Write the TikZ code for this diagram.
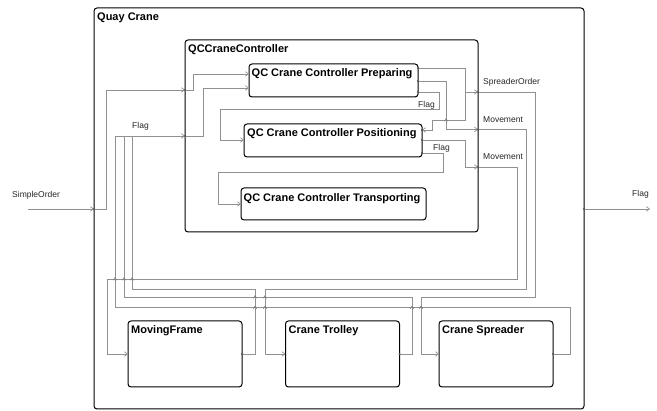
\documentclass[tikz,border=0pt]{standalone}
\usepackage{fontspec}
\setmainfont{Liberation Sans}
\usetikzlibrary{arrows.meta}
\definecolor{wirec}{RGB}{145,145,145}
\definecolor{portc}{RGB}{80,80,80}
\tikzset{
  blk/.style={draw=black, line width=1pt, rounded corners=3pt, anchor=north west, inner sep=0pt, outer sep=0pt},
  ttl/.style={anchor=base west, inner sep=0pt, font=\fontsize{11}{13}\selectfont\bfseries},
  lbl/.style={anchor=base west, inner sep=0pt, font=\fontsize{8.5}{10}\selectfont, text=black!85},
  wire/.style={draw=wirec, line width=0.7pt},
  arr/.style={wire, -{Straight Barb[length=3pt,width=4.5pt]}},
  portmark/.style={fill=portc, circle, inner sep=0pt, minimum size=2.4pt},
  hop/.style={draw=wirec!80!black, line width=0.5pt},
}
\begin{document}
\begin{tikzpicture}[x=1pt,y=-1pt]
\useasboundingbox (0,0) rectangle (657,411);

% boxes
\node[blk, minimum width=490pt, minimum height=401pt] (qc) at (94,8) {};
\node[blk, minimum width=293pt, minimum height=192pt] (cc) at (185,40) {};
\node[blk, minimum width=169pt, minimum height=33pt] (prep) at (249,64) {};
\node[blk, minimum width=178pt, minimum height=33pt] (posi) at (244,124) {};
\node[blk, minimum width=185pt, minimum height=32pt] (trans) at (241,188) {};
\node[blk, minimum width=114pt, minimum height=66pt] (mf) at (128,321) {};
\node[blk, minimum width=114pt, minimum height=66pt] (ct) at (285.5,321) {};
\node[blk, minimum width=114pt, minimum height=66pt] (cs) at (439,321) {};

% titles
\node[ttl] (qct) at (97,21) {Quay Crane};
\node[ttl] (cct) at (188,53) {QCCraneController};
\node[ttl] (prept) at (251.5,77) {QC Crane Controller Preparing};
\node[ttl] (posit) at (247,137) {QC Crane Controller Positioning};
\node[ttl] (transt) at (243.5,201.5) {QC Crane Controller Transporting};
\node[ttl] (mft) at (131,334) {MovingFrame};
\node[ttl] (ctt) at (288.5,334) {Crane Trolley};
\node[ttl] (cst) at (442,334) {Crane Spreader};

% labels
\node[lbl] (lso) at (12,198) {SimpleOrder};
\node[lbl] (lfl1) at (132,129) {Flag};
\node[lbl] (lfl2) at (418,107.3) {Flag};
\node[lbl] (lfl3) at (433,150.7) {Flag};
\node[lbl] (lspo) at (483,84.5) {SpreaderOrder};
\node[lbl] (lmv1) at (483,123) {Movement};
\node[lbl] (lmv2) at (483,160) {Movement};
\node[lbl] (lflo) at (632,197) {Flag};

% ports
\coordinate (soStart) at (28,209);
\coordinate (qcIn) at (qc.west |- {(0,209)});
\coordinate (qcOut) at (qc.east |- {(0,209)});
\coordinate (flEnd) at (650,209);
\coordinate (ccIn1) at (cc.west |- {(0,90)});
\coordinate (ccIn2) at (cc.west |- {(0,136)});
\coordinate (ccOut1) at (cc.east |- {(0,92)});
\coordinate (ccOut2) at (cc.east |- {(0,129.5)});
\coordinate (ccOut3) at (cc.east |- {(0,167)});
\coordinate (prepIn1) at (prep.west |- {(0,74)});
\coordinate (prepIn2) at (prep.west |- {(0,88)});
\coordinate (prepOut1) at (prep.east |- {(0,68)});
\coordinate (prepOut2) at (prep.east |- {(0,81)});
\coordinate (prepOut3) at (prep.east |- {(0,92)});
\coordinate (posiInL) at (posi.west |- {(0,140)});
\coordinate (posiInR) at (posi.east |- {(0,130)});
\coordinate (posiOut1) at (posi.east |- {(0,140)});
\coordinate (posiOut2) at (posi.east |- {(0,153)});
\coordinate (transIn) at (trans.west |- {(0,204)});
\coordinate (mfIn) at (mf.west |- {(0,354)});
\coordinate (mfOut) at (mf.east |- {(0,354)});
\coordinate (ctIn) at (ct.west |- {(0,354)});
\coordinate (ctOut) at (ct.east |- {(0,354)});
\coordinate (csIn) at (cs.west |- {(0,354)});
\coordinate (csOut) at (cs.east |- {(0,354)});
\coordinate (flagBus) at (115,136);
\coordinate (spBranch) at (465,92);

% outer connections
\draw[arr] (soStart) -- (qcIn);
\draw[arr] (qcOut) -- (flEnd);
\draw[arr] (qcIn) -- (106,209) -- (106,90) -- (ccIn1);
\draw[arr] (ccIn1) -- (193,90) -- (193,74) -- (prepIn1);
\draw[arr] (flagBus) -- (ccIn2);
\draw[arr] (ccIn2) -- (203,136) -- (203,88) -- (prepIn2);

% feedback flags from subsystems
\draw[wire] (mfOut) -- (255,354) -- (255,289) -- (132,289) -- (132,136);
\draw[wire] (ctOut) -- (412,354) -- (412,297) -- (124,297) -- (124,136);
\draw[wire] (csOut) -- (570,354) -- (570,307.5) -- (115,307.5) -- (flagBus);

% controller outputs to subsystems
\draw[arr] (ccOut3) -- (517,167) -- (517,279) -- (107,279) -- (107,354) -- (mfIn);
\draw[arr] (ccOut2) -- (526,129.5) -- (526,289) -- (265,289) -- (265,354) -- (ctIn);
\draw[arr] (ccOut1) -- (535,92) -- (535,297) -- (421,297) -- (421,354) -- (csIn);

% inside controller
\draw[arr] (prepOut1) -- (465,68) -- (465,120) -- (432,120) -- (432,130) -- (posiInR);
\draw[arr] (spBranch) -- (ccOut1);
\draw[arr] (prepOut2) -- (446,81) -- (446,129.5) -- (ccOut2);
\draw[arr] (prepOut3) -- (439,92) -- (439,109) -- (220,109) -- (220,140) -- (posiInL);
\draw[arr] (posiOut1) -- (465,140) -- (465,167) -- (ccOut3);
\draw[arr] (posiOut2) -- (443,153) -- (443,172) -- (218,172) -- (218,204) -- (transIn);

% line hops at crossings
\foreach \hx/\hy in {115/279,124/279,132/279,255/297,265/297,255/307.5,265/307.5,412/307.5,421/307.5,446/120}
  \draw[hop] (\hx-1.6,\hy+1.2) -- (\hx,\hy-1.4) -- (\hx+1.6,\hy+1.2);

% port marks
\foreach \p in {qcIn,qcOut,ccIn1,ccIn2,ccOut1,ccOut2,ccOut3,prepOut1,prepOut2,prepOut3,posiInR,posiOut1,posiOut2,mfOut,ctOut,csOut}
  \node[portmark] at (\p) {};
\end{tikzpicture}
\end{document}
